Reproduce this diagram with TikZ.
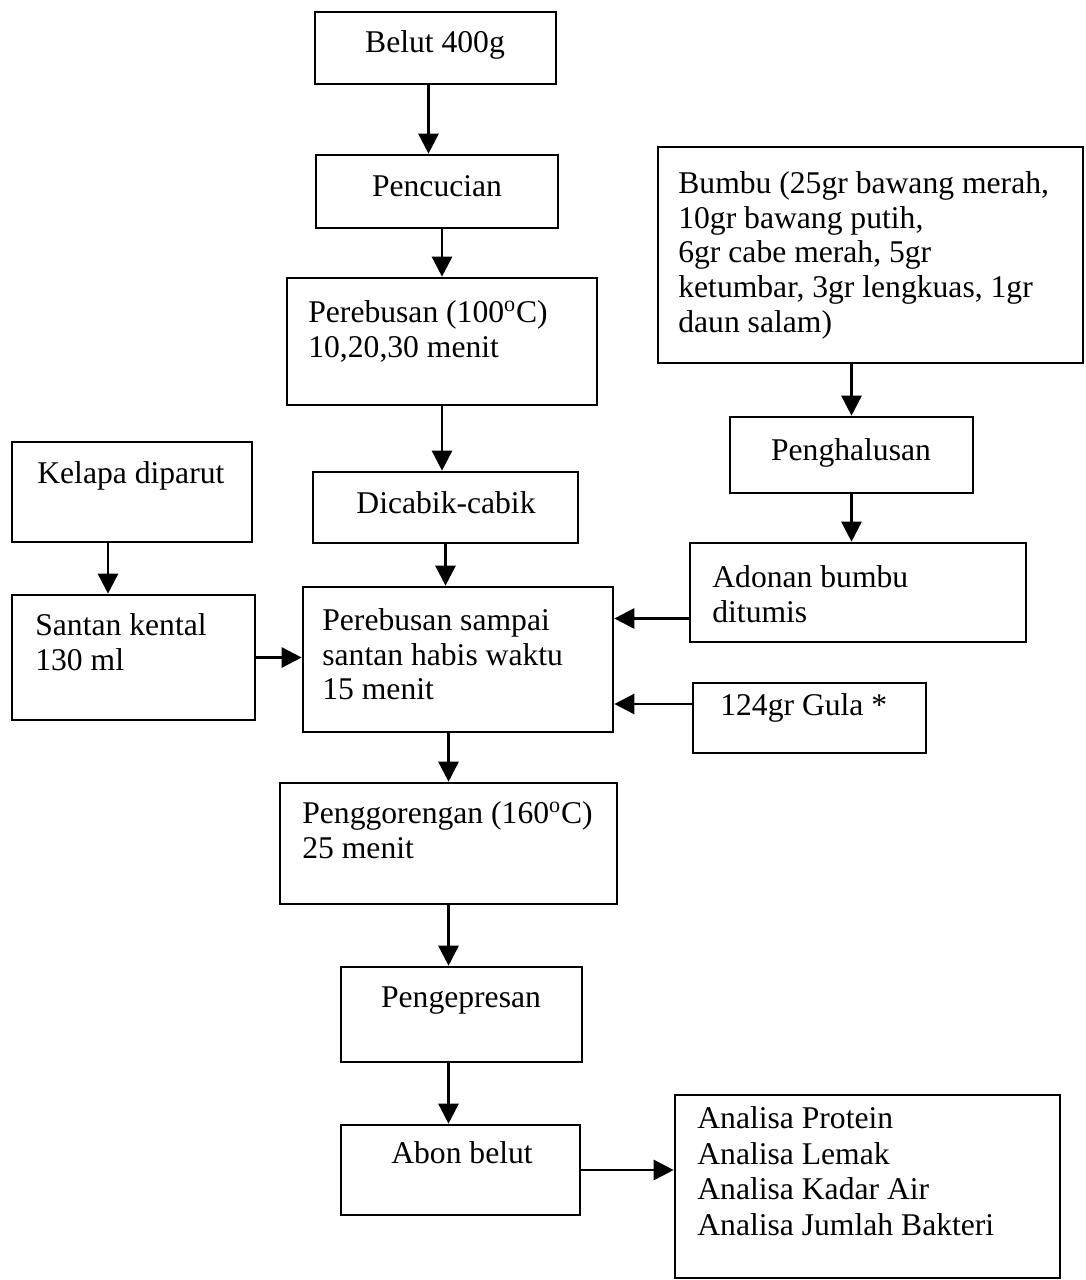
\documentclass[tikz,border=0pt]{standalone}
\usepackage{fontspec}
\setmainfont{Liberation Serif}
\usetikzlibrary{arrows.meta}
\usetikzlibrary{calc,fit,positioning}

\tikzset{
 kotak/.style={draw, line width=1.5pt, inner sep=0pt},
 teks/.style={inner sep=0pt, align=left, font=\fontsize{18}{19.8}\selectfont},
 panah/.style={line width=1.5pt, -{Triangle[length=0.4cm,width=0.4cm]}},
}

\begin{document}
\begin{tikzpicture}[x=0.02cm, y=-0.02cm]
\useasboundingbox (0,0) rectangle (1085,1280);
% kotak-kotak
\node[kotak, fit={(315,12) (556,84)}] (belut) {};
\node[kotak, fit={(316,155) (558,228)}] (cuci) {};
\node[kotak, fit={(287,278) (597,405)}] (rebus) {};
\node[kotak, fit={(313,472) (578,543)}] (cabik) {};
\node[kotak, fit={(303,587) (613,732)}] (rebussantan) {};
\node[kotak, fit={(12,442) (252,542)}] (kelapa) {};
\node[kotak, fit={(12,595) (255,720)}] (santan) {};
\node[kotak, fit={(658,147) (1083,363)}] (bumbu) {};
\node[kotak, fit={(730,417) (973,493)}] (halus) {};
\node[kotak, fit={(690,543) (1026,642)}] (adonan) {};
\node[kotak, fit={(693,683) (926,753)}] (gula) {};
\node[kotak, fit={(280,783) (617,904)}] (goreng) {};
\node[kotak, fit={(341,967) (582,1062)}] (pres) {};
\node[kotak, fit={(341,1125) (580,1215)}] (abon) {};
\node[kotak, fit={(675,1095) (1060,1278)}] (analisa) {};

% teks
\node[teks, anchor=base] (tbelut) at (435,53) {Belut 400g};
\node[teks, anchor=base] (tcuci) at (437,197) {Pencucian};
\node[teks, anchor=north west] (trebus) at (308,300) {Perebusan (100\textsuperscript{o}C)\\10,20,30 menit};
\node[teks, anchor=base] (tcabik) at (446,513) {Dicabik-cabik};
\node[teks, anchor=north west] (trebussantan) at (322,608) {Perebusan sampai\\santan habis waktu\\15 menit};
\node[teks, anchor=base west] (tkelapa) at (37,483) {Kelapa diparut};
\node[teks, anchor=north west] (tsantan) at (35,613) {Santan kental\\130 ml};
\node[teks, anchor=north west] (tbumbu) at (678,171) {Bumbu (25gr bawang merah,\\10gr bawang putih,\\6gr cabe merah, 5gr\\ketumbar, 3gr lengkuas, 1gr\\daun salam)};
\node[teks, anchor=base] (thalus) at (851,460) {Penghalusan};
\node[teks, anchor=north west] (tadonan) at (712,565) {Adonan bumbu\\ditumis};
\node[teks, anchor=base west] (tgula) at (720,715) {124gr Gula *};
\node[teks, anchor=north west] (tgoreng) at (302,801) {Penggorengan (160\textsuperscript{o}C)\\25 menit};
\node[teks, anchor=base] (tpres) at (461,1007) {Pengepresan};
\node[teks, anchor=base] (tabon) at (462,1163) {Abon belut};
\node[teks, anchor=north west, font=\fontsize{18}{20.4}\selectfont] (tanalisa) at (697,1106) {Analisa Protein\\Analisa Lemak\\Analisa Kadar Air\\Analisa Jumlah Bakteri};

% panah
\coordinate (b1) at ($(belut.south)+(-7,0)$);
\draw[panah] (b1) -- (b1 |- cuci.north);
\draw[panah] (rebus.north |- cuci.south) -- (rebus.north);
\draw[panah] (rebus.south) -- (rebus.south |- cabik.north);
\draw[panah] (cabik.south) -- (cabik.south |- rebussantan.north);
\draw[panah] (goreng.north |- rebussantan.south) -- (goreng.north);
\draw[panah] (goreng.south) -- (goreng.south |- pres.north);
\draw[panah] (pres.south -| goreng.south) -- (abon.north -| goreng.south);
\draw[panah] (abon.east) -- (abon.east -| analisa.west);
\draw[panah] (halus.north |- bumbu.south) -- (halus.north);
\draw[panah] (halus.south) -- (halus.south |- adonan.north);
\coordinate (k1) at ($(kelapa.south)+(-24,0)$);
\draw[panah] (k1) -- (k1 |- santan.north);
\draw[panah] (santan.east) -- (santan.east -| rebussantan.west);
\coordinate (a1) at ($(adonan.west)+(0,26)$);
\draw[panah] (a1) -- (a1 -| rebussantan.east);
\coordinate (g1) at ($(gula.west)+(0,-14)$);
\draw[panah] (g1) -- (g1 -| rebussantan.east);
\end{tikzpicture}
\end{document}
